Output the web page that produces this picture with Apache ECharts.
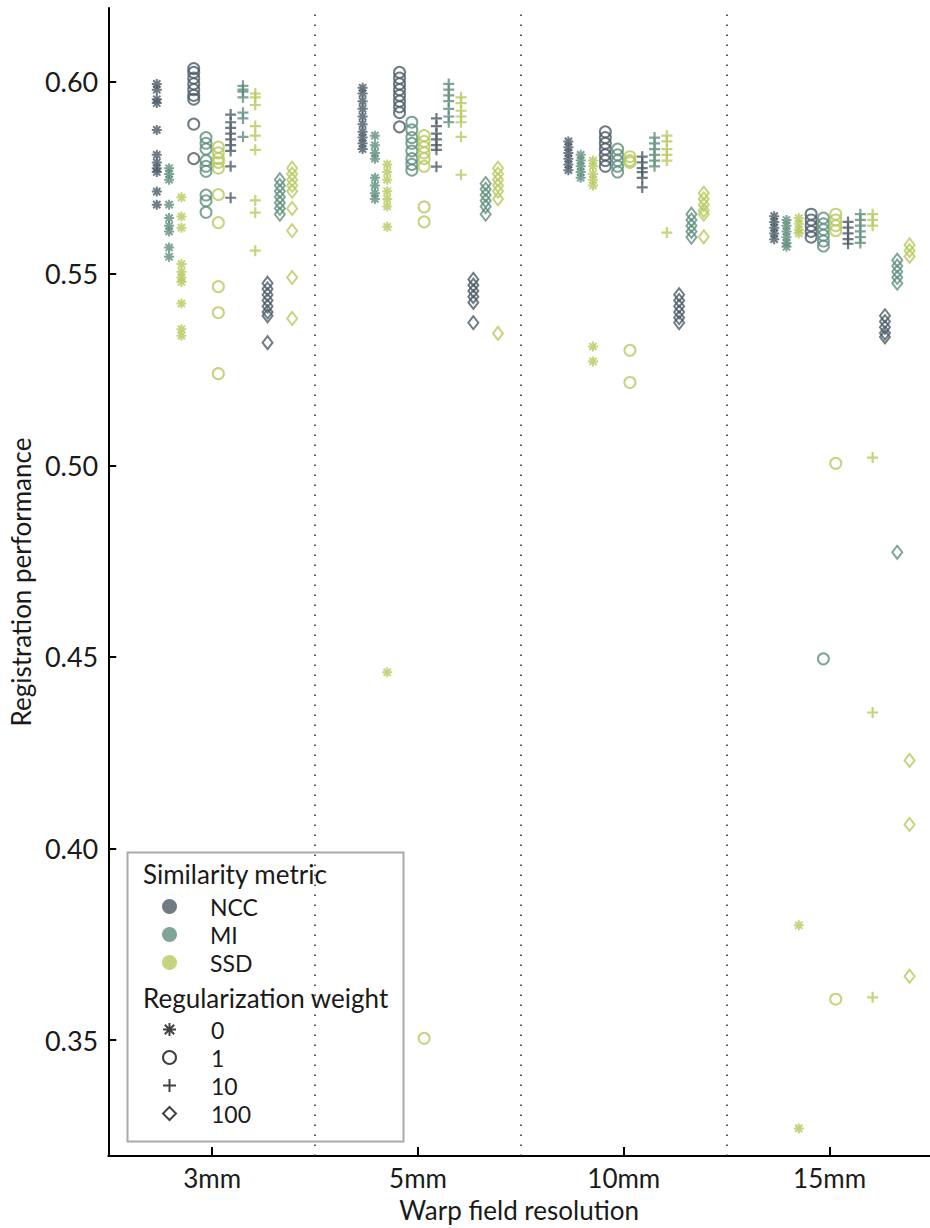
<!DOCTYPE html>
<html>
<head>
<meta charset="utf-8">
<script src="https://cdn.jsdelivr.net/npm/echarts@6/dist/echarts.min.js"></script>
<style>
html,body{margin:0;padding:0;background:#fff;}
#chart{width:930px;height:1228px;}
</style>
</head>
<body>
<div id="chart"></div>
<script>
// ---- categories / ticks ----
const groups = ['3mm', '5mm', '10mm', '15mm'];
const metrics = ['NCC', 'MI', 'SSD'];
const weights = ['0', '1', '10', '100'];
const yTicks = [0.35, 0.40, 0.45, 0.50, 0.55, 0.60];

// ---- values: one list per metric/weight, each with one sub-list per warp resolution ----
const ncc_w0 = [
  [0.5995, 0.598, 0.5955, 0.5945, 0.5875, 0.581, 0.579, 0.5775, 0.5765, 0.5714, 0.568],
  [0.5985, 0.597, 0.595, 0.593, 0.591, 0.589, 0.587, 0.5855, 0.584, 0.5825],
  [0.5845, 0.583, 0.5815, 0.580, 0.5785, 0.577],
  [0.565, 0.5635, 0.562, 0.5605, 0.559]
];
const mi_w0 = [
  [0.5775, 0.576, 0.5745, 0.568, 0.5645, 0.5625, 0.561, 0.5568, 0.5544],
  [0.586, 0.5835, 0.5815, 0.580, 0.575, 0.573, 0.571, 0.5695],
  [0.581, 0.5795, 0.578, 0.5765, 0.575],
  [0.564, 0.5625, 0.561, 0.5595, 0.558, 0.557]
];
const ssd_w0 = [
  [0.5699, 0.5649, 0.562, 0.5525, 0.5505, 0.549, 0.5478, 0.5422, 0.5355, 0.5338],
  [0.5785, 0.5765, 0.5745, 0.5715, 0.5695, 0.5675, 0.5622, 0.446],
  [0.5795, 0.578, 0.576, 0.5745, 0.573, 0.531, 0.5271],
  [0.5645, 0.563, 0.5615, 0.5605, 0.380, 0.327]
];
const ncc_w1 = [
  [0.6035, 0.6025, 0.601, 0.5995, 0.598, 0.5965, 0.5955, 0.589, 0.580],
  [0.6025, 0.601, 0.5995, 0.598, 0.5965, 0.595, 0.5935, 0.592, 0.5883],
  [0.587, 0.5855, 0.584, 0.5825, 0.581, 0.5795, 0.578],
  [0.5655, 0.564, 0.5625, 0.561, 0.5595]
];
const mi_w1 = [
  [0.5855, 0.584, 0.5825, 0.5795, 0.578, 0.5767, 0.5705, 0.569, 0.566],
  [0.5895, 0.5875, 0.5855, 0.584, 0.582, 0.580, 0.5785, 0.577],
  [0.5825, 0.581, 0.5795, 0.578, 0.5765],
  [0.5645, 0.563, 0.5615, 0.560, 0.5585, 0.5572, 0.4495]
];
const ssd_w1 = [
  [0.583, 0.5815, 0.580, 0.579, 0.5775, 0.5706, 0.5633, 0.5466, 0.5398, 0.5239],
  [0.586, 0.5845, 0.583, 0.5815, 0.580, 0.578, 0.5674, 0.5635, 0.3505],
  [0.5805, 0.5795, 0.579, 0.530, 0.5216],
  [0.5655, 0.564, 0.5625, 0.5612, 0.5005, 0.3607]
];
const ncc_w10 = [
  [0.5915, 0.5895, 0.588, 0.5865, 0.585, 0.5835, 0.582, 0.578, 0.5698],
  [0.5905, 0.5885, 0.5865, 0.585, 0.5835, 0.5823, 0.5779],
  [0.5805, 0.579, 0.5775, 0.5765, 0.575, 0.5725],
  [0.5635, 0.562, 0.5605, 0.559, 0.5578]
];
const mi_w10 = [
  [0.599, 0.598, 0.5975, 0.596, 0.592, 0.5905, 0.5857],
  [0.5995, 0.598, 0.5965, 0.595, 0.593, 0.591, 0.5895],
  [0.5855, 0.584, 0.5825, 0.581, 0.5795, 0.578],
  [0.5655, 0.564, 0.5625, 0.561, 0.5595, 0.558]
];
const ssd_w10 = [
  [0.597, 0.596, 0.594, 0.5885, 0.586, 0.5823, 0.5691, 0.5659, 0.556],
  [0.596, 0.5945, 0.5925, 0.591, 0.5895, 0.5857, 0.5758],
  [0.586, 0.5845, 0.5825, 0.581, 0.5795, 0.5607],
  [0.5655, 0.564, 0.5625, 0.502, 0.4355, 0.3612]
];
const ncc_w100 = [
  [0.5475, 0.546, 0.5445, 0.543, 0.5415, 0.540, 0.539, 0.532],
  [0.5485, 0.547, 0.5455, 0.544, 0.5425, 0.5372],
  [0.5445, 0.543, 0.5415, 0.540, 0.5385, 0.5372],
  [0.539, 0.5375, 0.536, 0.5345, 0.5335]
];
const mi_w100 = [
  [0.5745, 0.573, 0.5715, 0.570, 0.5685, 0.567, 0.5655],
  [0.5735, 0.572, 0.5705, 0.569, 0.5675, 0.5655],
  [0.5655, 0.564, 0.5625, 0.561, 0.5595],
  [0.5535, 0.552, 0.5505, 0.549, 0.5475, 0.4773]
];
const ssd_w100 = [
  [0.5775, 0.576, 0.5745, 0.573, 0.5715, 0.567, 0.5612, 0.549, 0.5383],
  [0.5775, 0.576, 0.5745, 0.573, 0.5715, 0.5695, 0.5344],
  [0.571, 0.5695, 0.568, 0.5665, 0.5655, 0.5596],
  [0.5575, 0.556, 0.5545, 0.423, 0.4063, 0.3667]
];

// ---- styling ----
const FONT = 'Lato';
const colors = { NCC: '#4b5b67', MI: '#5f8f7d', SSD: '#b6c95c' };
const ASTERISK = 'path://M0,-1L0,1M-1,0L1,0M-0.72,-0.72L0.72,0.72M-0.72,0.72L0.72,-0.72';
const PLUS = 'path://M0,-1L0,1M-1,0L1,0';
const symbols = {
  '0':   { symbol: ASTERISK,  size: 10,       border: 2.0 },
  '1':   { symbol: 'circle',  size: 11,       border: 2.0 },
  '10':  { symbol: PLUS,      size: 11,       border: 2.2 },
  '100': { symbol: 'diamond', size: [10, 13], border: 2.0 }
};
const table = {
  NCC: { '0': ncc_w0, '1': ncc_w1, '10': ncc_w10, '100': ncc_w100 },
  MI:  { '0': mi_w0,  '1': mi_w1,  '10': mi_w10,  '100': mi_w100 },
  SSD: { '0': ssd_w0, '1': ssd_w1, '10': ssd_w10, '100': ssd_w100 }
};
const COL_STEP = 0.0598; // horizontal spacing between sub-columns inside a group

const series = [];
weights.forEach((w, wi) => {
  metrics.forEach((m, mi) => {
    const k = wi * 3 + mi;
    const pts = [];
    table[m][w].forEach((vals, gi) => {
      vals.forEach(v => pts.push([gi + 1 + (k - 4.5) * COL_STEP, v]));
    });
    const s = symbols[w];
    series.push({
      name: m + ' / ' + w,
      type: 'scatter',
      data: pts,
      symbol: s.symbol,
      symbolSize: s.size,
      itemStyle: { color: 'rgba(0,0,0,0)', borderColor: colors[m], borderWidth: s.border },
      emphasis: { disabled: true },
      silent: true,
      z: 3
    });
  });
});
// group separators
series[0].markLine = {
  silent: true,
  symbol: 'none',
  label: { show: false },
  lineStyle: { color: '#222', width: 1.5, type: [1.5, 8.5] },
  data: [{ xAxis: 1.5 }, { xAxis: 2.5 }, { xAxis: 3.5 }],
  z: 1
};
// legend-only series
metrics.forEach(m => series.push({ name: m, type: 'scatter', data: [], itemStyle: { color: colors[m] } }));
weights.forEach(w => series.push({ name: w, type: 'scatter', data: [], itemStyle: { color: '#111' } }));

const legendIcons = { '0': ASTERISK, '1': 'circle', '10': PLUS, '100': 'diamond' };

const chart = echarts.init(document.getElementById('chart'), null, { renderer: 'svg' });
chart.setOption({
  animation: false,
  backgroundColor: '#fff',
  textStyle: { fontFamily: FONT },
  grid: { left: 103, right: 0, top: 8, bottom: 70, containLabel: false },
  xAxis: {
    type: 'value',
    min: 0.495,
    max: 4.488,
    name: 'Warp field resolution',
    nameLocation: 'middle',
    nameGap: 41,
    nameTextStyle: { fontFamily: FONT, fontSize: 26, color: '#1a1a1a' },
    axisLine: { show: true, onZero: false, lineStyle: { color: '#000', width: 2 } },
    axisTick: { show: true, inside: true, length: 9, lineStyle: { color: '#000', width: 2 }, customValues: [1, 2, 3, 4] },
    axisLabel: {
      customValues: [1, 2, 3, 4],
      formatter: v => groups[Math.round(v) - 1] || '',
      fontFamily: FONT, fontSize: 26, color: '#1a1a1a', margin: 9
    },
    splitLine: { show: false }
  },
  yAxis: {
    type: 'value',
    min: 0.3198,
    max: 0.6193,
    name: 'Registration performance',
    nameLocation: 'middle',
    nameGap: 70,
    nameTextStyle: { fontFamily: FONT, fontSize: 26, color: '#1a1a1a' },
    axisLine: { show: true, onZero: false, lineStyle: { color: '#000', width: 2 } },
    axisTick: { show: true, inside: true, length: 8, lineStyle: { color: '#000', width: 2 }, customValues: yTicks },
    axisLabel: {
      customValues: yTicks,
      formatter: v => v.toFixed(2),
      fontFamily: FONT, fontSize: 27, color: '#1a1a1a', margin: 10
    },
    splitLine: { show: false }
  },
  title: [
    { text: 'Similarity metric', left: 143, top: 861, padding: 0,
      textStyle: { fontFamily: FONT, fontSize: 26, fontWeight: 'normal', color: '#1a1a1a', lineHeight: 26 } },
    { text: 'Regularization weight', left: 143, top: 985, padding: 0,
      textStyle: { fontFamily: FONT, fontSize: 26, fontWeight: 'normal', color: '#1a1a1a', lineHeight: 26 } }
  ],
  legend: [
    {
      orient: 'vertical', left: 162, top: 895, padding: 0,
      itemWidth: 15, itemHeight: 15, itemGap: 5,
      selectedMode: false,
      data: metrics.map(m => ({ name: m, icon: 'circle', itemStyle: { color: colors[m], borderWidth: 0 } })),
      textStyle: { fontFamily: FONT, fontSize: 23, color: '#1a1a1a', lineHeight: 23, padding: [0, 0, 0, 28] }
    },
    {
      orient: 'vertical', left: 162, top: 1018, padding: 0,
      itemWidth: 13, itemHeight: 13, itemGap: 5,
      selectedMode: false,
      data: weights.map(w => ({
        name: w, icon: legendIcons[w],
        itemStyle: { color: 'rgba(0,0,0,0)', borderColor: '#111', borderWidth: 2 }
      })),
      textStyle: { fontFamily: FONT, fontSize: 23, color: '#1a1a1a', lineHeight: 23, padding: [0, 0, 0, 30] }
    }
  ],
  graphic: [
    { type: 'rect', left: 125, top: 850, shape: { width: 276, height: 289 },
      style: { fill: 'none', stroke: '#aaaaaa', lineWidth: 2 }, z: 10, silent: true }
  ],
  series: series
});
</script>
</body>
</html>
